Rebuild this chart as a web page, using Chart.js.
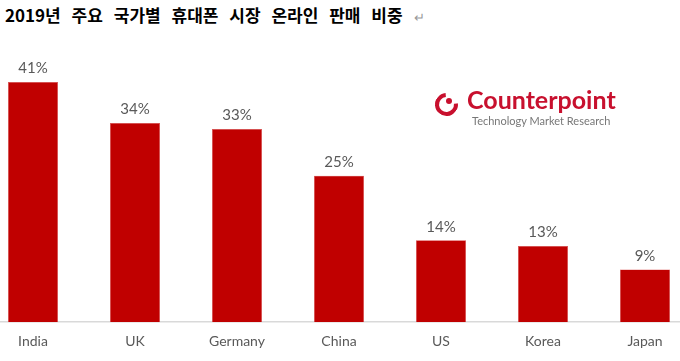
<!DOCTYPE html>
<html>
<head>
<meta charset="utf-8">
<script src="https://cdn.jsdelivr.net/npm/chart.js@4"></script>
<style>
  body { margin: 0; background: #fff; width: 680px; height: 361px; overflow: hidden; position: relative; }
  #title { position: absolute; left: 5px; top: 2px; font: bold 17px "Noto Sans CJK KR"; color: #000; word-spacing: 7px; white-space: nowrap; }
  #title span { color: #999; font-weight: normal; font-size: 13px; }
  #wrap { position: absolute; left: -18px; top: 0; width: 714px; height: 361px; }
  #logo { position: absolute; left: 435px; top: 86px; }
  #logo .ring { position: absolute; left: 0; top: 7px; width: 15px; height: 15px; border: 4px solid #c8102e; border-radius: 50%; border-top-color: transparent; transform: rotate(40deg); }
  #logo .dot { position: absolute; left: 11px; top: 12px; width: 6px; height: 6px; background: #c8102e; border-radius: 50%; }
  #logo .name { position: absolute; left: 32px; top: -2px; font: bold 25px Lato; color: #c8102e; white-space: nowrap; }
  #logo .sub { position: absolute; left: 37px; top: 28px; font: 11px Lato; color: #777; white-space: nowrap; }
</style>
</head>
<body>
<div id="title">2019년 주요 국가별 휴대폰 시장 온라인 판매 비중 <span>↵</span></div>
<div id="wrap"><canvas id="onlineChart"></canvas></div>
<div id="logo"><div class="ring"></div><div class="dot"></div><div class="name">Counterpoint</div><div class="sub">Technology Market Research</div></div>
<script>
// online sales share by country, 2019
const countries = ['India', 'UK', 'Germany', 'China', 'US', 'Korea', 'Japan'];
const shares = [41, 34, 33, 25, 14, 13, 9];

// value labels above bars
const valueLabels = {
    id: 'valueLabels',
    afterDatasetsDraw(chart) {
        const ctx = chart.ctx;
        ctx.save();
        ctx.font = '15px Lato';
        ctx.fillStyle = '#595959';
        ctx.textAlign = 'center';
        ctx.textBaseline = 'bottom';
        chart.getDatasetMeta(0).data.forEach((bar, i) => {
            ctx.fillText(shares[i] + '%', bar.x, bar.y - 6);
        });
        ctx.restore();
    }
};

var ctx = document.getElementById('onlineChart');
const onlineChart = new Chart(ctx, {
    type: 'bar',
    data: {
        labels: countries,
        datasets: [{
            data: shares,
            backgroundColor: '#c00000',
            borderColor: '#d94a4a',
            borderWidth: 0.5,
            categoryPercentage: 1,
            barPercentage: 0.49
        }]
    },
    options: {
        responsive: false,
        animation: false,
        layout: { padding: { top: 0, bottom: -4, left: 0, right: 0 } },
        plugins: { legend: { display: false }, tooltip: { enabled: false } },
        scales: {
            x: {
                grid: { display: false, drawTicks: false },
                border: { color: '#d9d9d9', width: 1.5 },
                ticks: { color: '#595959', font: { family: 'Lato', size: 14 }, padding: 11 }
            },
            y: {
                display: false,
                min: 0,
                max: 55
            }
        }
    },
    plugins: [valueLabels]
});
ctx.width = 714; ctx.height = 361;
onlineChart.resize(714, 361);
</script>
</body>
</html>
